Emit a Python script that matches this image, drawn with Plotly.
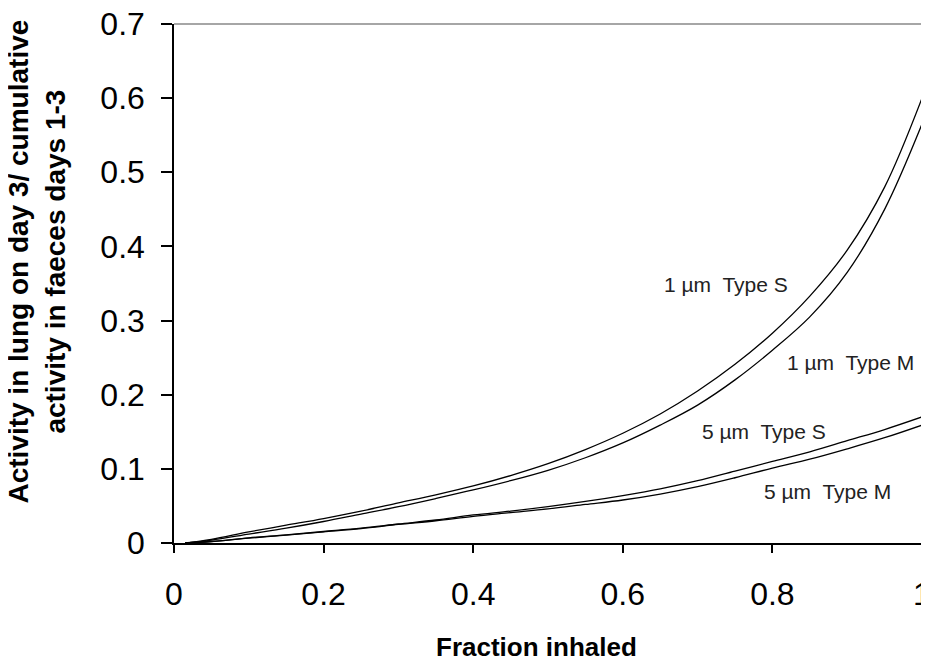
import plotly.graph_objects as go

x = [0.015, 0.05, 0.1, 0.15, 0.2, 0.25, 0.3, 0.35, 0.4, 0.45, 0.5,
     0.55, 0.6, 0.65, 0.7, 0.75, 0.8, 0.85, 0.9, 0.95, 1.0]
s1 = [0, 0.005, 0.015, 0.024, 0.033, 0.043, 0.054, 0.065, 0.077, 0.091, 0.107,
      0.126, 0.148, 0.174, 0.205, 0.241, 0.283, 0.333, 0.395, 0.48, 0.60]
m1 = [0, 0.004, 0.012, 0.020, 0.029, 0.039, 0.049, 0.060, 0.0715, 0.084, 0.098,
      0.115, 0.135, 0.159, 0.186, 0.220, 0.260, 0.305, 0.365, 0.45, 0.565]
s5 = [0, 0.002, 0.007, 0.011, 0.0155, 0.020, 0.0256, 0.031, 0.0378, 0.043, 0.049,
      0.056, 0.064, 0.073, 0.084, 0.097, 0.110, 0.123, 0.138, 0.153, 0.170]
m5 = [0, 0.002, 0.0065, 0.0105, 0.015, 0.0195, 0.025, 0.030, 0.036, 0.041, 0.046,
      0.052, 0.058, 0.066, 0.076, 0.088, 0.101, 0.113, 0.127, 0.142, 0.159]

series = [("1 µm  Type S", s1), ("1 µm  Type M", m1),
          ("5 µm  Type S", s5), ("5 µm  Type M", m5)]
label_pos = [(0.738, 0.348), (0.904, 0.244), (0.789, 0.151), (0.874, 0.070)]

x_ticks = [0, 0.2, 0.4, 0.6, 0.8, 1]
x_ticktext = ["0", "0.2", "0.4", "0.6", "0.8", "1"]
y_ticks = [0, 0.1, 0.2, 0.3, 0.4, 0.5, 0.6, 0.7]
y_ticktext = ["0", "0.1", "0.2", "0.3", "0.4", "0.5", "0.6", "0.7"]

FONT = "Liberation Sans, Arial, sans-serif"

fig = go.Figure()
for name, vals in series:
    fig.add_trace(go.Scatter(x=x, y=vals, mode="lines", name=name,
                             line=dict(color="black", width=1.3, shape="spline"),
                             showlegend=False))

for (name, _), (lx, ly) in zip(series, label_pos):
    fig.add_annotation(x=lx, y=ly, xref="x", yref="y", text=name, showarrow=False,
                       xanchor="center", yanchor="middle",
                       font=dict(family=FONT, size=21, color="#222"))

fig.add_annotation(x=-0.184, y=0.543, xref="paper", yref="paper",
                   xanchor="center", yanchor="middle",
                   text="<b>Activity in lung on day 3/ cumulative<br>activity in faeces days 1-3</b>",
                   textangle=-90, showarrow=False,
                   font=dict(family=FONT, size=28, color="black"))
fig.add_annotation(x=0.484, y=0, xref="paper", yref="paper",
                   xanchor="center", yanchor="middle",
                   yshift=-104, text="<b>Fraction inhaled</b>", showarrow=False,
                   font=dict(family=FONT, size=26, color="black"))

fig.add_shape(type="line", xref="paper", yref="paper", x0=0, x1=1, y0=1, y1=1,
              line=dict(color="#888888", width=1.5))
fig.add_shape(type="line", xref="paper", yref="paper", x0=1, x1=1, y0=0, y1=1,
              line=dict(color="#888888", width=1.5))

fig.update_layout(
    width=921, height=655,
    margin=dict(l=166, r=7, t=16, b=120, autoexpand=False),
    paper_bgcolor="white", plot_bgcolor="white",
    xaxis=dict(range=[0, 1], tickvals=x_ticks, ticktext=x_ticktext, automargin=False,
               showgrid=False, zeroline=False, showline=True, linecolor="black", linewidth=1.5,
               ticks="outside", ticklen=8, tickwidth=1.5, tickcolor="black",
               ticklabelstandoff=14, ticklabeloverflow="allow",
               tickfont=dict(family=FONT, size=32, color="black")),
    yaxis=dict(range=[0, 0.7], tickvals=y_ticks, ticktext=y_ticktext, automargin=False,
               showgrid=False, zeroline=False, showline=True, linecolor="black", linewidth=1.5,
               ticks="outside", ticklen=11, tickwidth=1.5, tickcolor="black",
               ticklabelstandoff=10, ticklabeloverflow="allow",
               tickfont=dict(family=FONT, size=32, color="black")),
)

fig.write_html("out.html")
